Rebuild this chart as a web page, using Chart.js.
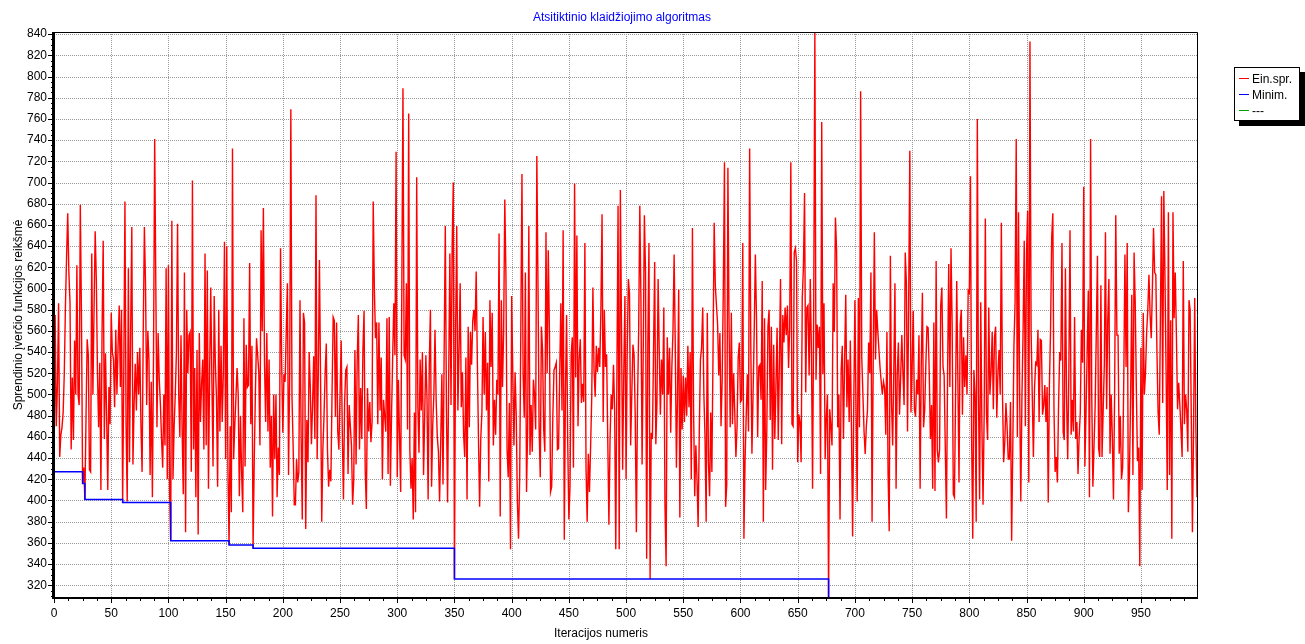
<!DOCTYPE html>
<html lang="lt">
<head>
<meta charset="utf-8">
<title>Atsitiktinio klaidžiojimo algoritmas</title>
<script src="https://cdn.jsdelivr.net/npm/chart.js@4.4.1/dist/chart.umd.min.js"></script>
<style>
  body { margin: 0; background: #fff; font-family: "Liberation Sans", Arial, sans-serif; }
  #wrap { position: relative; width: 1305px; height: 644px; overflow: hidden; }
  #chart { position: absolute; left: 0; top: 0; }
  .lbl { position: absolute; font-size: 12px; line-height: 14px; white-space: nowrap; color: #000; }
  #title { left: 322px; width: 600px; top: 10px; text-align: center; color: #0000ff; }
  #xTitle { left: 401px; width: 400px; top: 626px; text-align: center; }
  #yTitle { left: -182px; top: 308px; width: 400px; text-align: center; transform: rotate(-90deg); }
  #legend { position: absolute; left: 1234px; top: 67px; width: 64px; height: 49px; padding-top: 3px;
            border: 1px solid #000; background: #fff; box-shadow: 5px 5px 0 #000; font-size: 12px; }
  #legend div { height: 16px; line-height: 16px; white-space: nowrap; }
  #legend .sw { display: inline-block; width: 10px; height: 0; vertical-align: middle; margin: 0 3px 2px 4px; }
</style>
</head>
<body>
<div id="wrap">
  <canvas id="chart" width="1305" height="644"></canvas>
  <div class="lbl" id="title">Atsitiktinio klaidžiojimo algoritmas</div>
  <div class="lbl" id="xTitle">Iteracijos numeris</div>
  <div class="lbl" id="yTitle">Sprendinio įverčio funkcijos reikšmė</div>
  <div id="legend">
    <div><span class="sw" style="border-top: 1px solid #ff0000"></span>Ein.spr.</div>
    <div><span class="sw" style="border-top: 1px solid #0000ff"></span>Minim.</div>
    <div><span class="sw" style="border-top: 1px solid #00a000"></span>---</div>
  </div>
</div>
<script>
// iteracijos 0..999
const iterations = Array.from({ length: 1000 }, (_, i) => i);

// ašių žymės
const xTicks = [0, 50, 100, 150, 200, 250, 300, 350, 400, 450, 500, 550, 600, 650, 700, 750, 800, 850, 900, 950];
const yTicks = [320, 340, 360, 380, 400, 420, 440, 460, 480, 500, 520, 540, 560, 580, 600, 620, 640, 660, 680, 700, 720, 740, 760, 780, 800, 820, 840];

// Ein.spr. - einamasis sprendinys (skaityta nuo paveikslo)
const einSpr = [
  427, 575, 470, 509, 586, 441, 462, 469, 483, 520,
  584, 630, 671, 615, 586, 448, 516, 457, 551, 500,
  622, 500, 490, 679, 575, 416, 431, 401, 480, 552,
  537, 429, 427, 633, 500, 580, 654, 608, 520, 469,
  530, 410, 560, 645, 458, 539, 480, 410, 507, 472,
  577, 540, 533, 488, 561, 500, 546, 584, 507, 580,
  398, 520, 682, 470, 399, 619, 436, 560, 658, 434,
  490, 529, 485, 540, 500, 544, 470, 427, 560, 658,
  603, 490, 560, 533, 424, 512, 403, 540, 741, 600,
  469, 558, 514, 491, 458, 431, 500, 452, 619, 420,
  622, 410, 362, 664, 420, 470, 500, 540, 661, 500,
  460, 556, 465, 406, 615, 370, 580, 520, 556, 559,
  427, 702, 448, 525, 403, 542, 368, 558, 474, 510,
  533, 448, 633, 452, 617, 411, 520, 601, 512, 432,
  593, 530, 497, 413, 580, 465, 546, 474, 520, 644,
  439, 640, 431, 358, 470, 389, 732, 439, 470, 497,
  525, 500, 404, 480, 425, 389, 572, 432, 547, 507,
  509, 624, 472, 546, 355, 436, 500, 553, 537, 521,
  452, 655, 560, 676, 528, 474, 558, 465, 533, 431,
  480, 385, 500, 439, 500, 403, 450, 424, 638, 530,
  464, 519, 512, 560, 605, 424, 520, 769, 498, 452,
  396, 396, 439, 417, 427, 589, 460, 382, 577, 568,
  373, 476, 436, 540, 507, 453, 490, 536, 458, 688,
  439, 520, 627, 512, 380, 448, 480, 521, 548, 448,
  413, 429, 418, 500, 573, 570, 479, 568, 465, 448,
  500, 551, 462, 401, 492, 523, 526, 425, 490, 470,
  452, 396, 420, 542, 434, 532, 575, 448, 506, 458,
  542, 579, 429, 392, 506, 465, 493, 455, 474, 682,
  600, 553, 568, 472, 568, 485, 535, 420, 495, 480,
  465, 572, 425, 573, 414, 480, 535, 586, 537, 729,
  422, 514, 460, 408, 600, 789, 537, 533, 605, 467,
  765, 448, 411, 440, 382, 483, 389, 705, 490, 445,
  533, 485, 540, 424, 480, 537, 497, 401, 528, 580,
  413, 470, 500, 561, 495, 460, 446, 399, 455, 519,
  415, 540, 659, 486, 398, 520, 633, 490, 641, 700,
  326, 560, 659, 485, 540, 605, 488, 521, 462, 441,
  535, 401, 564, 469, 559, 528, 570, 580, 560, 616,
  532, 458, 394, 458, 483, 573, 500, 559, 485, 530,
  418, 589, 526, 577, 452, 495, 462, 514, 500, 652,
  385, 589, 507, 560, 684, 612, 448, 422, 492, 354,
  593, 520, 452, 521, 480, 399, 364, 420, 560, 708,
  520, 478, 615, 408, 469, 659, 443, 490, 446, 514,
  500, 467, 725, 605, 469, 422, 564, 542, 467, 446,
  653, 520, 636, 559, 408, 413, 480, 523, 526, 530,
  448, 449, 520, 586, 485, 655, 363, 500, 575, 455,
  382, 413, 537, 554, 431, 699, 516, 650, 470, 533,
  552, 492, 510, 493, 643, 431, 380, 444, 408, 450,
  498, 601, 523, 498, 546, 521, 544, 526, 580, 670,
  474, 580, 526, 538, 457, 377, 458, 500, 486, 528,
  486, 354, 520, 678, 354, 693, 563, 429, 520, 593,
  420, 540, 609, 595, 452, 500, 547, 537, 480, 370,
  493, 560, 678, 589, 434, 540, 669, 615, 345, 546,
  643, 326, 464, 458, 540, 625, 453, 493, 609, 540,
  481, 533, 500, 582, 396, 338, 554, 500, 544, 464,
  525, 560, 632, 546, 431, 500, 599, 384, 525, 467,
  518, 474, 516, 480, 546, 488, 540, 420, 657, 485,
  404, 452, 420, 375, 465, 533, 544, 582, 500, 460,
  380, 577, 436, 404, 483, 427, 540, 662, 603, 584,
  566, 518, 558, 470, 514, 600, 719, 394, 415, 714,
  566, 469, 577, 472, 520, 483, 441, 469, 535, 549,
  493, 495, 643, 364, 438, 480, 519, 465, 732, 549,
  444, 500, 560, 632, 572, 460, 526, 528, 495, 607,
  380, 572, 410, 465, 564, 580, 476, 564, 429, 547,
  458, 509, 563, 457, 530, 609, 453, 575, 549, 582,
  556, 584, 525, 563, 719, 472, 470, 634, 638, 626,
  436, 481, 474, 436, 591, 620, 690, 502, 582, 584,
  518, 609, 542, 411, 584, 842, 514, 566, 544, 564,
  425, 757, 519, 586, 439, 478, 500, 308, 486, 470,
  452, 605, 559, 667, 636, 469, 500, 382, 523, 546,
  458, 530, 594, 488, 533, 474, 551, 467, 366, 490,
  589, 485, 399, 591, 469, 786, 535, 500, 465, 444,
  470, 485, 549, 520, 615, 380, 532, 653, 533, 580,
  560, 542, 525, 512, 500, 512, 506, 462, 559, 425,
  371, 631, 493, 452, 523, 605, 411, 519, 549, 481,
  516, 556, 520, 490, 634, 605, 465, 589, 730, 483,
  525, 579, 486, 479, 514, 500, 556, 411, 528, 596,
  469, 485, 528, 564, 563, 519, 458, 490, 411, 568,
  409, 626, 448, 436, 448, 584, 601, 526, 518, 450,
  383, 519, 623, 507, 638, 566, 406, 403, 500, 607,
  514, 417, 566, 580, 481, 554, 507, 537, 500, 598,
  596, 706, 460, 364, 523, 500, 380, 760, 500, 401,
  587, 470, 396, 483, 666, 481, 457, 582, 500, 521,
  559, 486, 554, 564, 478, 520, 542, 500, 662, 500,
  436, 455, 492, 470, 439, 439, 493, 362, 450, 546,
  587, 741, 460, 672, 500, 399, 498, 560, 645, 470,
  634, 673, 417, 833, 560, 500, 441, 506, 530, 528,
  561, 474, 552, 551, 481, 490, 509, 474, 507, 398,
  509, 560, 648, 671, 486, 427, 441, 417, 490, 540,
  532, 643, 465, 457, 619, 497, 439, 520, 655, 462,
  495, 465, 573, 458, 474, 425, 460, 483, 561, 530,
  696, 432, 483, 540, 598, 403, 741, 500, 413, 452,
  490, 560, 631, 449, 441, 603, 441, 485, 528, 653,
  486, 570, 609, 444, 500, 460, 401, 500, 669, 556,
  556, 444, 480, 420, 431, 514, 632, 526, 643, 389,
  427, 500, 594, 424, 634, 587, 504, 437, 450, 338,
  544, 410, 577, 500, 521, 559, 580, 613, 575, 553,
  600, 657, 615, 613, 540, 483, 462, 570, 687, 492,
  692, 612, 520, 410, 672, 424, 570, 364, 672, 572,
  615, 556, 486, 511, 490, 467, 441, 626, 472, 500,
  486, 446, 589, 580, 481, 370, 469, 591, 469, 403
];

// Minim. - geriausias rastas (laiptai)
const minIter  = [0,   25,  27,  60,  102, 153, 174, 350, 677, 999];
const minValue = [427, 416, 401, 398, 362, 358, 355, 326, 308, 308];

const yMin = 308, yMax = 842;

// tinklelis, padalos ir rėmas
const frame = {
    id: 'frame',
    beforeDatasetsDraw(chart) {
        const { ctx, chartArea: a, scales: { x, y } } = chart;
        ctx.save();
        ctx.strokeStyle = '#999999';
        ctx.lineWidth = 1;
        ctx.setLineDash([1, 1]);
        ctx.beginPath();
        x.ticks.forEach(t => {
            const px = Math.round(x.getPixelForValue(t.value)) + 0.5;
            ctx.moveTo(px, a.top); ctx.lineTo(px, a.bottom);
        });
        y.ticks.forEach(t => {
            const py = Math.round(y.getPixelForValue(t.value)) + 0.5;
            ctx.moveTo(a.left, py); ctx.lineTo(a.right, py);
        });
        ctx.stroke();
        ctx.restore();
    },
    afterDatasetsDraw(chart) {
        const { ctx, chartArea: a, scales: { x, y } } = chart;
        ctx.save();
        ctx.strokeStyle = '#000';
        ctx.lineWidth = 1;
        ctx.beginPath();
        for (let v = 0; v <= 999; v += 12.5) {
            const px = Math.round(x.getPixelForValue(v)) + 0.5;
            const len = v % 50 === 0 ? 5 : 3;
            ctx.moveTo(px, a.bottom); ctx.lineTo(px, a.bottom + len);
        }
        for (let v = 310; v <= yMax; v += 5) {
            const py = Math.round(y.getPixelForValue(v)) + 0.5;
            const len = v % 20 === 0 ? 6 : 3;
            ctx.moveTo(a.left - len, py); ctx.lineTo(a.left, py);
        }
        // top + right thin
        ctx.moveTo(a.left, a.top + 0.5); ctx.lineTo(a.right + 0.5, a.top + 0.5);
        ctx.lineTo(a.right + 0.5, a.bottom);
        ctx.stroke();
        // left axis
        ctx.lineWidth = 3;
        ctx.beginPath();
        ctx.moveTo(a.left - 0.5, a.top); ctx.lineTo(a.left - 0.5, a.bottom + 1);
        ctx.stroke();
        // bottom axis
        ctx.lineWidth = 2;
        ctx.beginPath();
        ctx.moveTo(a.left - 2, a.bottom); ctx.lineTo(a.right + 1, a.bottom);
        ctx.stroke();
        ctx.restore();
    }
};

const tickFont = { family: '"Liberation Sans", Arial, sans-serif', size: 12 };

const chart = new Chart(document.getElementById('chart'), {
    type: 'line',
    data: {
        labels: iterations,
        datasets: [
            {
                label: 'Ein.spr.',
                data: einSpr,
                borderColor: '#ff0000',
                borderWidth: 1.4,
                pointRadius: 0,
                tension: 0,
                order: 2
            },
            {
                label: 'Minim.',
                data: minIter.map((it, i) => ({ x: it, y: minValue[i] })),
                borderColor: '#0000ff',
                borderWidth: 1.5,
                pointRadius: 0,
                stepped: true,
                order: 1
            },
            {
                label: '---',
                data: [],
                borderColor: '#00a000'
            }
        ]
    },
    options: {
        responsive: false,
        animation: false,
        events: [],
        layout: { padding: { top: 32, right: 108, left: 0, bottom: 0 } },
        plugins: {
            legend: { display: false },
            title: { display: false },
            tooltip: { enabled: false }
        },
        scales: {
            x: {
                type: 'linear',
                min: 0,
                max: 999,
                grid: { display: false, drawTicks: false },
                border: { display: false },
                ticks: { autoSkip: false, maxRotation: 0, padding: 8, color: '#000', font: tickFont },
                afterBuildTicks: s => { s.ticks = xTicks.map(v => ({ value: v })); },
                afterFit: s => { s.height = 46; }
            },
            y: {
                min: yMin,
                max: yMax,
                grid: { display: false, drawTicks: false },
                border: { display: false },
                ticks: { autoSkip: false, padding: 7, color: '#000', font: tickFont },
                afterBuildTicks: s => { s.ticks = yTicks.map(v => ({ value: v })); },
                afterFit: s => { s.width = 54; }
            }
        }
    },
    plugins: [frame]
});
</script>
</body>
</html>
